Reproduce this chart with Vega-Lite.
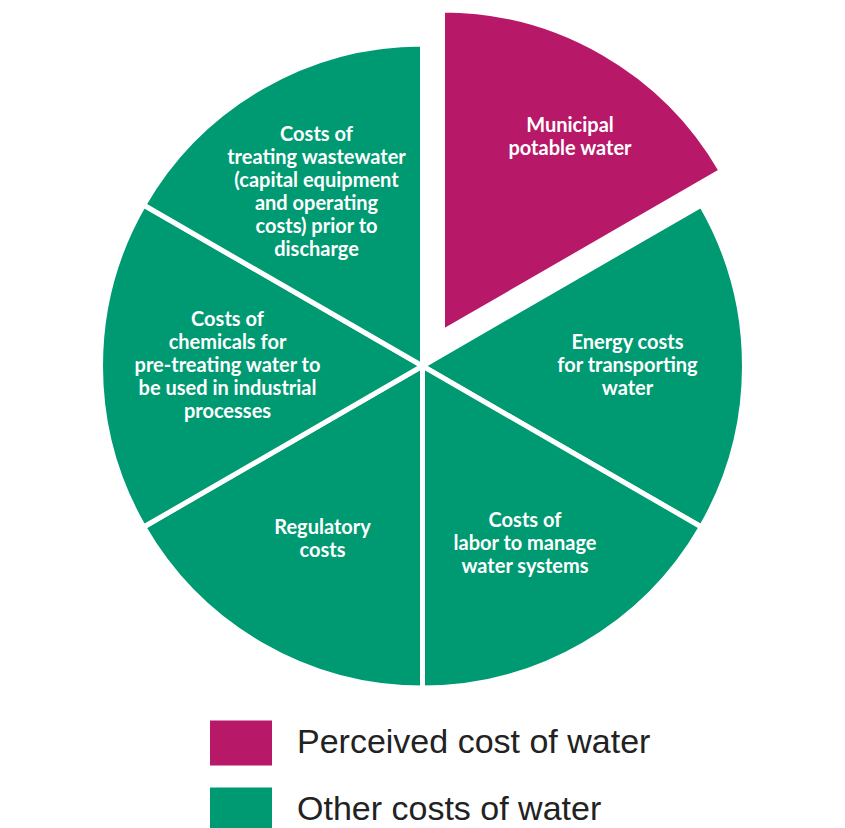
{
  "$schema": "https://vega.github.io/schema/vega-lite/v6.json",
  "width": 845,
  "height": 730,
  "padding": 0,
  "background": "white",
  "config": {"view": {"stroke": null}},
  "data": {
    "values": [
      {"idx": 1, "value": 1, "type": "Perceived cost of water", "label": "Municipal\npotable water"},
      {"idx": 2, "value": 1, "type": "Other costs of water", "label": "Energy costs\nfor transporting\nwater"},
      {"idx": 3, "value": 1, "type": "Other costs of water", "label": "Costs of\nlabor to manage\nwater systems"},
      {"idx": 4, "value": 1, "type": "Other costs of water", "label": "Regulatory\ncosts"},
      {"idx": 5, "value": 1, "type": "Other costs of water", "label": "Costs of\nchemicals for\npre-treating water to\nbe used in industrial\nprocesses"},
      {"idx": 6, "value": 1, "type": "Other costs of water", "label": "Costs of\ntreating wastewater\n(capital equipment\nand operating\ncosts) prior to\ndischarge"}
    ]
  },
  "encoding": {
    "theta": {"field": "value", "type": "quantitative", "stack": true},
    "order": {"field": "idx", "type": "quantitative"},
    "color": {
      "field": "type",
      "type": "nominal",
      "scale": {"domain": ["Perceived cost of water", "Other costs of water"], "range": ["#B81868", "#009A72"]},
      "legend": {
        "title": null,
        "orient": "none",
        "legendX": 210,
        "legendY": 711,
        "direction": "vertical",
        "padding": 0,
        "symbolType": "M-1,-0.726H1V0.726H-1Z",
        "symbolSize": 3844,
        "symbolStrokeWidth": 0,
        "symbolOpacity": 1,
        "rowPadding": 13,
        "labelOffset": 25,
        "labelFont": "Liberation Sans",
        "labelFontWeight": "normal",
        "labelFontSize": 34,
        "labelColor": "#222222",
        "labelLimit": 600
      }
    }
  },
  "layer": [
    {
      "mark": {"type": "arc", "radius": 322, "stroke": "white", "strokeWidth": 5},
      "encoding": {
        "opacity": {"condition": {"test": "datum.idx == 1", "value": 0}, "value": 1}
      }
    },
    {
      "transform": [{"filter": "datum.idx == 1"}],
      "mark": {"type": "arc", "radius": 322, "stroke": "white", "strokeWidth": 5, "xOffset": 20, "yOffset": -34}
    },
    {
      "mark": {"type": "text", "radius": 205, "dy": -23, "font": "Lato", "fontWeight": "bold", "fontSize": 20, "lineHeight": 23, "lineBreak": "\n", "align": "center", "baseline": "middle"},
      "encoding": {
        "text": {"field": "label"},
        "color": {"value": "white"},
        "opacity": {"condition": {"test": "datum.idx == 2 || datum.idx == 3", "value": 1}, "value": 0}
      }
    },
    {
      "mark": {"type": "text", "radius": 200, "dy": -11.5, "font": "Lato", "fontWeight": "bold", "fontSize": 20, "lineHeight": 23, "lineBreak": "\n", "align": "center", "baseline": "middle"},
      "encoding": {
        "text": {"field": "label"},
        "color": {"value": "white"},
        "opacity": {"condition": {"test": "datum.idx == 4", "value": 1}, "value": 0}
      }
    },
    {
      "mark": {"type": "text", "radius": 195, "dy": -46, "font": "Lato", "fontWeight": "bold", "fontSize": 20, "lineHeight": 23, "lineBreak": "\n", "align": "center", "baseline": "middle"},
      "encoding": {
        "text": {"field": "label"},
        "color": {"value": "white"},
        "opacity": {"condition": {"test": "datum.idx == 5", "value": 1}, "value": 0}
      }
    },
    {
      "mark": {"type": "text", "radius": 200, "dx": -6, "dy": -57.5, "font": "Lato", "fontWeight": "bold", "fontSize": 20, "lineHeight": 23, "lineBreak": "\n", "align": "center", "baseline": "middle"},
      "encoding": {
        "text": {"field": "label"},
        "color": {"value": "white"},
        "opacity": {"condition": {"test": "datum.idx == 6", "value": 1}, "value": 0}
      }
    },
    {
      "transform": [{"filter": "datum.idx == 1"}],
      "mark": {"type": "text", "radius": 225, "dx": 15, "dy": -11.5, "font": "Lato", "fontWeight": "bold", "fontSize": 20, "lineHeight": 23, "lineBreak": "\n", "align": "center", "baseline": "middle", "xOffset": 20, "yOffset": -34},
      "encoding": {
        "text": {"field": "label"},
        "color": {"value": "white"}
      }
    }
  ]
}
